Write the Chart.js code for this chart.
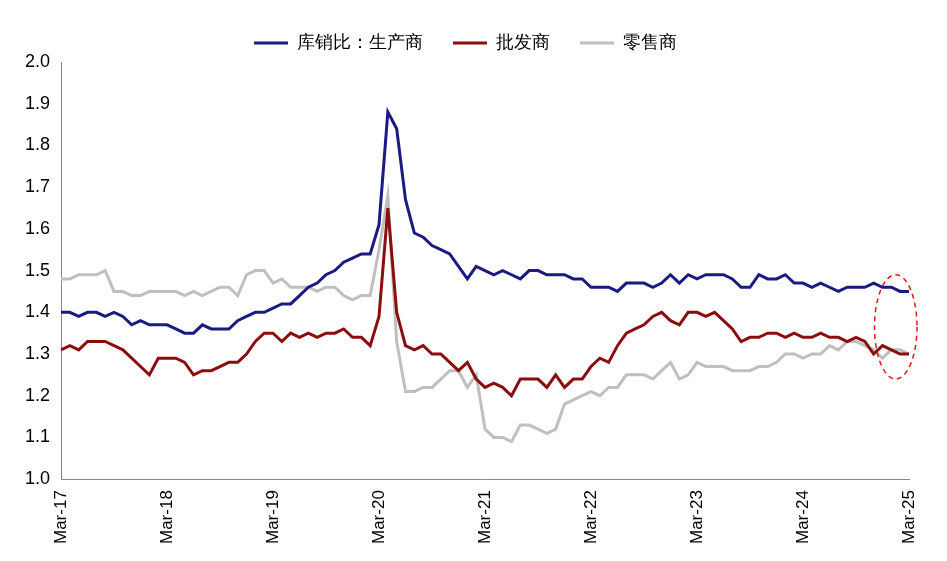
<!DOCTYPE html>
<html>
<head>
<meta charset="utf-8">
<script src="https://cdn.jsdelivr.net/npm/chart.js@4/dist/chart.umd.min.js"></script>
<style>
  html, body { margin: 0; background: #fff; }
  #wrap { width: 947px; height: 561px; }
</style>
</head>
<body>
<div id="wrap"><canvas id="c"></canvas></div>
<script>
// monthly, Mar-17 .. Mar-25
const months = [];
for (let i = 0; i <= 96; i++) {
  const m = (2 + i) % 12;
  const y = 17 + Math.floor((2 + i) / 12);
  months.push(['Jan','Feb','Mar','Apr','May','Jun','Jul','Aug','Sep','Oct','Nov','Dec'][m] + '-' + y);
}

const manufacturers = [
  1.40,1.40,1.39,1.40,1.40,1.39,1.40,1.39,1.37,1.38,1.37,1.37,
  1.37,1.36,1.35,1.35,1.37,1.36,1.36,1.36,1.38,1.39,1.40,1.40,
  1.41,1.42,1.42,1.44,1.46,1.47,1.49,1.50,1.52,1.53,1.54,1.54,
  1.61,1.88,1.84,1.67,1.59,1.58,1.56,1.55,1.54,1.51,1.48,1.51,
  1.50,1.49,1.50,1.49,1.48,1.50,1.50,1.49,1.49,1.49,1.48,1.48,
  1.46,1.46,1.46,1.45,1.47,1.47,1.47,1.46,1.47,1.49,1.47,1.49,
  1.48,1.49,1.49,1.49,1.48,1.46,1.46,1.49,1.48,1.48,1.49,1.47,
  1.47,1.46,1.47,1.46,1.45,1.46,1.46,1.46,1.47,1.46,1.46,1.45,
  1.45
];
const wholesalers = [
  1.31,1.32,1.31,1.33,1.33,1.33,1.32,1.31,1.29,1.27,1.25,1.29,
  1.29,1.29,1.28,1.25,1.26,1.26,1.27,1.28,1.28,1.30,1.33,1.35,
  1.35,1.33,1.35,1.34,1.35,1.34,1.35,1.35,1.36,1.34,1.34,1.32,
  1.39,1.65,1.40,1.32,1.31,1.32,1.30,1.30,1.28,1.26,1.28,1.24,
  1.22,1.23,1.22,1.20,1.24,1.24,1.24,1.22,1.25,1.22,1.24,1.24,
  1.27,1.29,1.28,1.32,1.35,1.36,1.37,1.39,1.40,1.38,1.37,1.40,
  1.40,1.39,1.40,1.38,1.36,1.33,1.34,1.34,1.35,1.35,1.34,1.35,
  1.34,1.34,1.35,1.34,1.34,1.33,1.34,1.33,1.30,1.32,1.31,1.30,
  1.30
];
const retailers = [
  1.48,1.48,1.49,1.49,1.49,1.50,1.45,1.45,1.44,1.44,1.45,1.45,
  1.45,1.45,1.44,1.45,1.44,1.45,1.46,1.46,1.44,1.49,1.50,1.50,
  1.47,1.48,1.46,1.46,1.46,1.45,1.46,1.46,1.44,1.43,1.44,1.44,
  1.55,1.68,1.33,1.21,1.21,1.22,1.22,1.24,1.26,1.26,1.22,1.25,
  1.12,1.10,1.10,1.09,1.13,1.13,1.12,1.11,1.12,1.18,1.19,1.20,
  1.21,1.20,1.22,1.22,1.25,1.25,1.25,1.24,1.26,1.28,1.24,1.25,
  1.28,1.27,1.27,1.27,1.26,1.26,1.26,1.27,1.27,1.28,1.30,1.30,
  1.29,1.30,1.30,1.32,1.31,1.33,1.33,1.32,1.31,1.29,1.31,1.31,
  1.30
];
const seriesNames = ['库销比：生产商', '批发商', '零售商'];

// red dashed ellipse around the latest readings
const ellipsePlugin = {
  id: 'ellipse',
  afterDatasetsDraw(chart) {
    const { ctx, scales: { x, y } } = chart;
    const cx = (x.getPixelForValue(93) + x.getPixelForValue(96)) / 2;
    const cy = (y.getPixelForValue(1.49) + y.getPixelForValue(1.24)) / 2;
    const rx = (x.getPixelForValue(96) - x.getPixelForValue(93)) / 2 + 8;
    const ry = (y.getPixelForValue(1.24) - y.getPixelForValue(1.49)) / 2;
    ctx.save();
    ctx.strokeStyle = '#e8141c';
    ctx.lineWidth = 1.5;
    ctx.setLineDash([5, 4]);
    ctx.beginPath();
    ctx.ellipse(cx, cy, rx, ry, 0, 0, Math.PI * 2);
    ctx.stroke();
    ctx.restore();
  }
};

Chart.defaults.font.family = '"Liberation Sans", Arial, sans-serif';
Chart.defaults.color = '#000';

new Chart(document.getElementById('c'), {
  type: 'line',
  data: {
    labels: months,
    datasets: [
      { label: seriesNames[0], data: manufacturers, borderColor: '#1a1a80', borderWidth: 3 },
      { label: seriesNames[1], data: wholesalers, borderColor: '#8b0d0d', borderWidth: 3 },
      { label: seriesNames[2], data: retailers, borderColor: '#bfbfbf', borderWidth: 3 },
    ].map((d) => ({ ...d, pointRadius: 0, tension: 0, backgroundColor: d.borderColor })),
  },
  options: {
    responsive: true,
    maintainAspectRatio: false,
    animation: false,
    layout: { padding: { top: 4, right: 38, left: 22, bottom: 14 } },
    plugins: {
      legend: {
        position: 'top',
        labels: {
          font: { size: 18 },
          boxWidth: 34,
          boxHeight: 0,
          padding: 30,
          generateLabels: (chart) => chart.data.datasets.map((d, i) => ({
            text: d.label, strokeStyle: d.borderColor, fillStyle: d.borderColor,
            lineWidth: 3, datasetIndex: i,
          })),
        },
      },
      tooltip: { enabled: false },
    },
    scales: {
      x: {
        grid: { display: false, drawTicks: true },
        border: { color: '#888', width: 1 },
        ticks: {
          autoSkip: false, maxRotation: 90, minRotation: 90,
          font: { size: 17 },
          callback: (v, i) => (i % 12 === 0 ? months[i] : null),
        },
      },
      y: {
        min: 1.0, max: 2.0,
        grid: { display: false },
        border: { color: '#888', width: 1 },
        ticks: { stepSize: 0.1, font: { size: 18 }, callback: (v) => v.toFixed(1) },
      },
    },
  },
  plugins: [ellipsePlugin],
});
</script>
</body>
</html>
